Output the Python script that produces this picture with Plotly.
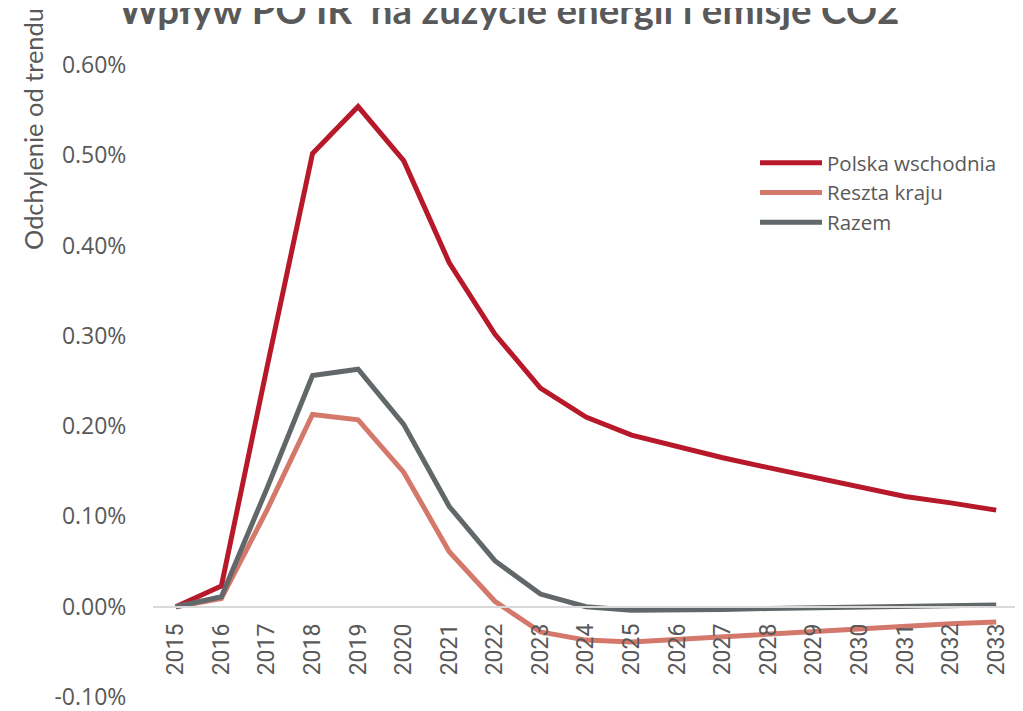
import plotly.graph_objects as go

years = [str(y) for y in range(2015, 2034)]

polska_wschodnia = [0.0, 0.023, 0.265, 0.502, 0.554, 0.494, 0.381, 0.302, 0.242, 0.210,
                    0.190, 0.177, 0.165, 0.154, 0.143, 0.133, 0.122, 0.115, 0.107]
reszta_kraju = [0.0, 0.009, 0.107, 0.213, 0.207, 0.149, 0.061, 0.006, -0.028, -0.037,
                -0.039, -0.036, -0.034, -0.031, -0.028, -0.025, -0.021, -0.019, -0.017]
razem = [0.0, 0.011, 0.131, 0.256, 0.263, 0.202, 0.111, 0.051, 0.014, 0.000,
         -0.004, -0.004, -0.003, -0.002, -0.001, 0.000, 0.001, 0.001, 0.002]

y_tick_values = [-0.001, 0.0, 0.001, 0.002, 0.003, 0.004, 0.005, 0.006]
y_tick_labels = ["-0.10%", "0.00%", "0.10%", "0.20%", "0.30%", "0.40%", "0.50%", "0.60%"]

series_names = ["Polska wschodnia", "Reszta kraju", "Razem"]
colors = ["#B7192B", "#D5786C", "#62676A"]

fig = go.Figure()
for name, vals, col in zip(series_names, [polska_wschodnia, reszta_kraju, razem], colors):
    fig.add_trace(go.Scatter(
        x=years, y=[v / 100 for v in vals], name=name, mode="lines",
        line=dict(color=col, width=5),
    ))

L, R, T, B = 145, 12, 57, 22
W, H = 1023, 711
PW, PH = W - L - R, H - T - B
ymin, ymax = -0.001, 0.006

fig.update_layout(
    width=W, height=H,
    margin=dict(l=L, r=R, t=T, b=B, pad=0),
    paper_bgcolor="white", plot_bgcolor="white",
    title=dict(text="<b>Wpływ PO IR  na zużycie energii i emisje CO2</b>",
               x=501 / W, xanchor="center", y=1 - 2.5 / H, yanchor="middle",
               font=dict(family="Lato", size=38.5, color="#595959")),
    xaxis=dict(type="category", range=[-0.5, len(years) - 0.5],
               anchor="free", position=(0 - ymin) / (ymax - ymin),
               automargin=False,
               showline=True, linecolor="#D9D9D9", linewidth=1.5,
               showgrid=False, zeroline=False,
               tickangle=-90, ticks="outside", ticklen=7, tickcolor="rgba(0,0,0,0)",
               tickfont=dict(family="Roboto", size=23, color="#595959")),
    yaxis=dict(range=[ymin, ymax], tickvals=y_tick_values, ticktext=y_tick_labels,
               automargin=False,
               showgrid=False, zeroline=False, showline=False,
               ticks="outside", ticklen=21, tickcolor="rgba(0,0,0,0)",
               tickfont=dict(family="Open Sans", size=23, color="#595959")),
    legend=dict(x=(747 - L) / PW, y=(H - B - 135) / PH,
                xanchor="left", yanchor="top", bgcolor="rgba(0,0,0,0)",
                itemwidth=62,
                font=dict(family="Open Sans", size=20.5, color="#595959")),
    annotations=[dict(text="Odchylenie od trendu", textangle=-90,
                      xref="paper", yref="paper",
                      x=(25 - L) / PW, y=(H - B - 121) / PH,
                      xanchor="center", yanchor="middle", showarrow=False,
                      font=dict(family="Lato", size=25.4, color="#595959"))],
)

fig.write_html("out.html")
